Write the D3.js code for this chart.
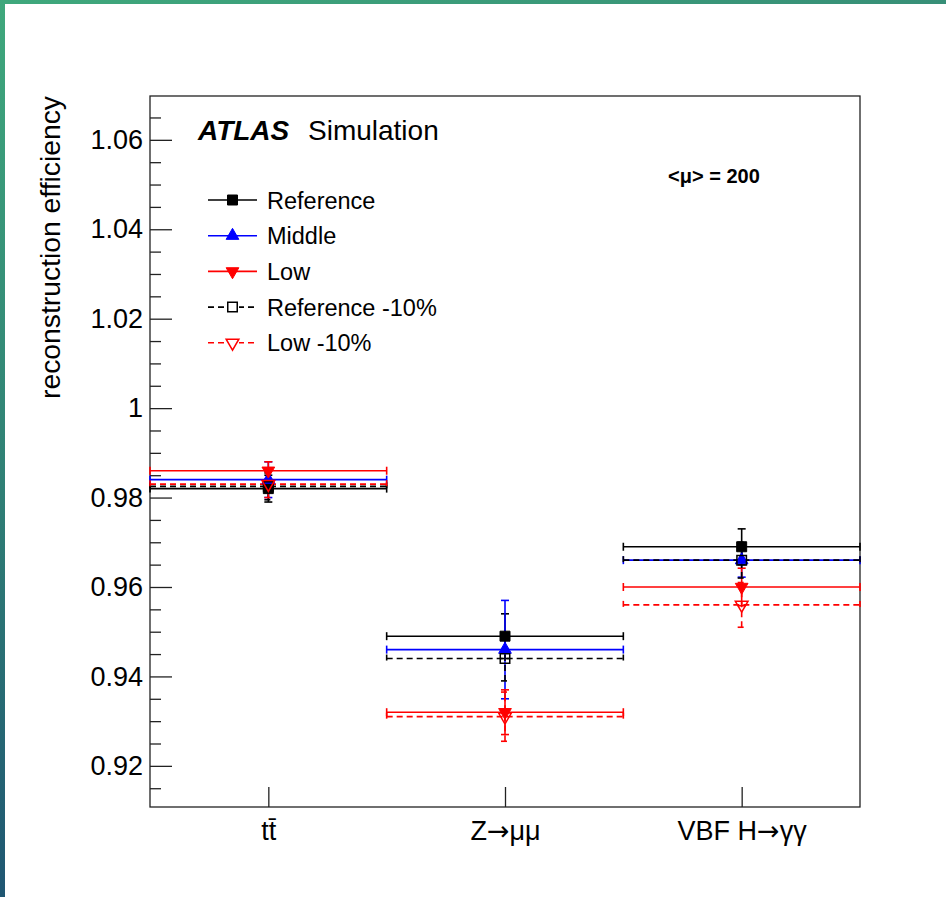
<!DOCTYPE html>
<html lang="en">
<head>
<meta charset="UTF-8">
<title>ATLAS Simulation: reconstruction efficiency</title>
<script src="https://d3js.org/d3.v7.min.js"></script>
<style>
  body { margin: 0; background: #fff; }
  svg text { font-family: "Liberation Sans", Arial, Helvetica, sans-serif; }
</style>
</head>
<body>
<svg id="chart" width="946" height="897"></svg>
<script>
// ---- data ----
const categories = ["tt\u0304", "Z→μμ", "VBF H→γγ"];

const refVals   = [0.982, 0.949, 0.969];
const refErr    = [0.003, 0.005, 0.004];
const midVals   = [0.984, 0.946, 0.966];
const midErr    = [0.004, 0.011, 0.0038];
const lowVals   = [0.986, 0.932, 0.960];
const lowErr    = [0.002, 0.005, 0.0042];
const ref10Vals = [0.9825, 0.944, 0.966];
const ref10Err  = [0.003, 0.005, 0.004];
const low10Vals = [0.983, 0.931, 0.956];
const low10Err  = [0.003, 0.0055, 0.005];

const yMajor = [0.92, 0.94, 0.96, 0.98, 1.0, 1.02, 1.04, 1.06];
const yMinor = [0.915, 0.925, 0.93, 0.935, 0.945, 0.95, 0.955, 0.965, 0.97, 0.975,
                0.985, 0.99, 0.995, 1.005, 1.01, 1.015, 1.025, 1.03, 1.035,
                1.045, 1.05, 1.055, 1.065];

const series = [
  { name: "Reference",      vals: refVals,   errs: refErr,   color: "#000",    dashed: false, marker: "square", open: false },
  { name: "Middle",         vals: midVals,   errs: midErr,   color: "#0000ff", dashed: false, marker: "up",     open: false },
  { name: "Low",            vals: lowVals,   errs: lowErr,   color: "#ff0000", dashed: false, marker: "down",   open: false },
  { name: "Reference -10%", vals: ref10Vals, errs: ref10Err, color: "#000",    dashed: true,  marker: "square", open: true },
  { name: "Low -10%",       vals: low10Vals, errs: low10Err, color: "#ff0000", dashed: true,  marker: "down",   open: true }
];

const svg = d3.select("#chart");

// teal frame strips of the slide
const defs = svg.append("defs");
const gTop = defs.append("linearGradient").attr("id", "gTop");
gTop.append("stop").attr("offset", "0%").attr("stop-color", "#3fa87c");
gTop.append("stop").attr("offset", "100%").attr("stop-color", "#378f77");
const gLeft = defs.append("linearGradient").attr("id", "gLeft")
  .attr("x1", 0).attr("y1", 0).attr("x2", 0).attr("y2", 1);
gLeft.append("stop").attr("offset", "0%").attr("stop-color", "#3fa87c");
gLeft.append("stop").attr("offset", "55%").attr("stop-color", "#2f7f75");
gLeft.append("stop").attr("offset", "100%").attr("stop-color", "#1f5672");
svg.append("rect").attr("x", 0).attr("y", 0).attr("width", 946).attr("height", 4).attr("fill", "url(#gTop)");
svg.append("rect").attr("x", 0).attr("y", 0).attr("width", 5).attr("height", 897).attr("fill", "url(#gLeft)");

// ---- scales ----
const frame = { left: 150, right: 860, top: 96, bottom: 807 };
const x = d3.scaleLinear().domain([0, 3]).range([frame.left, frame.right]);
const y = d3.scaleLinear().domain([0.9108, 1.0698]).range([frame.bottom, frame.top]);

// ---- axes ----
const yMinorAxis = svg.append("g").attr("transform", `translate(${frame.left},0)`)
  .call(d3.axisLeft(y).tickValues(yMinor).tickSizeInner(-11).tickSizeOuter(0).tickFormat(""));
yMinorAxis.select(".domain").remove();

const yAxis = svg.append("g").attr("transform", `translate(${frame.left},0)`)
  .call(d3.axisLeft(y).tickValues(yMajor).tickSizeInner(-22).tickSizeOuter(0).tickPadding(7)
    .tickFormat(d => Math.abs(d - 1) < 1e-9 ? "1" : d3.format(".2f")(d)));
yAxis.select(".domain").remove();
yAxis.selectAll("text").attr("font-size", 27).attr("fill", "#000").attr("font-family", null);

const xAxis = svg.append("g").attr("transform", `translate(0,${frame.bottom})`)
  .call(d3.axisBottom(x).tickValues([0.5, 1.5, 2.5]).tickSizeInner(-20).tickSizeOuter(0).tickPadding(14)
    .tickFormat(d => categories[Math.floor(d)]));
xAxis.select(".domain").remove();
xAxis.selectAll("text").attr("font-size", 27).attr("fill", "#000").attr("font-family", null)
  .each(function () {
    // give the arrow a fuller glyph, as in the ROOT label
    const t = d3.select(this);
    const parts = t.text().split("→");
    if (parts.length < 2) return;
    t.text(null);
    parts.forEach((p, k) => {
      if (k > 0) t.append("tspan").attr("font-family", "DejaVu Sans").text("→");
      t.append("tspan").text(p);
    });
  });
svg.selectAll(".tick line").attr("stroke", "#222").attr("stroke-width", 1.3);

// frame
svg.append("rect")
  .attr("x", frame.left).attr("y", frame.top)
  .attr("width", frame.right - frame.left).attr("height", frame.bottom - frame.top)
  .attr("fill", "none").attr("stroke", "#222").attr("stroke-width", 1.3);

// y title
svg.append("text")
  .attr("transform", "rotate(-90)")
  .attr("x", -frame.top).attr("y", 60)
  .attr("text-anchor", "end")
  .attr("font-size", 27)
  .attr("textLength", 303).attr("lengthAdjust", "spacingAndGlyphs")
  .text("reconstruction efficiency");

// ---- markers ----
function markerPath(kind, open) {
  if (kind === "square") return d3.symbol(d3.symbolSquare, open ? 90 : 100)();
  return d3.symbol(d3.symbolTriangle, 70)();
}
function drawMarker(g, s, cx, cy) {
  g.append("path")
    .attr("d", markerPath(s.marker, s.open))
    .attr("transform", `translate(${cx},${cy})` + (s.marker === "down" ? " rotate(180)" : ""))
    .attr("fill", s.open ? "none" : s.color)
    .attr("stroke", s.color)
    .attr("stroke-width", s.open ? 1.5 : 1);
}

// ---- data points with error bars ----
const plot = svg.append("g");
const cap = 4;
series.forEach(s => {
  const g = plot.append("g")
    .attr("stroke", s.color).attr("stroke-width", 1.6).attr("fill", "none")
    .attr("stroke-dasharray", s.dashed ? "6,4" : null);
  s.vals.forEach((v, i) => {
    const x0 = x(i), x1 = x(i + 1), xc = x(i + 0.5), yc = y(v);
    const yHi = y(v + s.errs[i]), yLo = y(v - s.errs[i]);
    g.append("line").attr("x1", x0).attr("x2", x1).attr("y1", yc).attr("y2", yc);
    g.append("line").attr("x1", x0).attr("x2", x0).attr("y1", yc - cap).attr("y2", yc + cap).attr("stroke-dasharray", null);
    g.append("line").attr("x1", x1).attr("x2", x1).attr("y1", yc - cap).attr("y2", yc + cap).attr("stroke-dasharray", null);
    g.append("line").attr("x1", xc).attr("x2", xc).attr("y1", yLo).attr("y2", yHi);
    g.append("line").attr("x1", xc - cap).attr("x2", xc + cap).attr("y1", yHi).attr("y2", yHi).attr("stroke-dasharray", null);
    g.append("line").attr("x1", xc - cap).attr("x2", xc + cap).attr("y1", yLo).attr("y2", yLo).attr("stroke-dasharray", null);
  });
});
series.forEach(s => {
  const g = plot.append("g");
  s.vals.forEach((v, i) => drawMarker(g, s, x(i + 0.5), y(v)));
});

// ---- labels ----
svg.append("text").attr("x", 198).attr("y", 140)
  .attr("font-size", 28).attr("font-weight", "bold").attr("font-style", "italic")
  .text("ATLAS");
svg.append("text").attr("x", 308).attr("y", 140)
  .attr("font-size", 28).text("Simulation");
svg.append("text").attr("x", 668).attr("y", 183)
  .attr("font-size", 20).attr("font-weight", "bold").text("<μ> = 200");

// ---- legend ----
const legend = svg.append("g").attr("transform", "translate(208,200)");
series.forEach((s, k) => {
  const row = legend.append("g").attr("transform", `translate(0,${k * 35.7})`);
  row.append("line").attr("x1", 0).attr("x2", 49).attr("y1", 0).attr("y2", 0)
    .attr("stroke", s.color).attr("stroke-width", 1.6)
    .attr("stroke-dasharray", s.dashed ? "6,4" : null);
  if (s.dashed) {
    row.append("rect").attr("x", 18).attr("y", -6).attr("width", 13).attr("height", 12).attr("fill", "#fff");
  }
  drawMarker(row, s, 24.5, 0);
  row.append("text").attr("x", 59).attr("y", 8.5)
    .attr("font-size", 23.5).text(s.name);
});
</script>
</body>
</html>
